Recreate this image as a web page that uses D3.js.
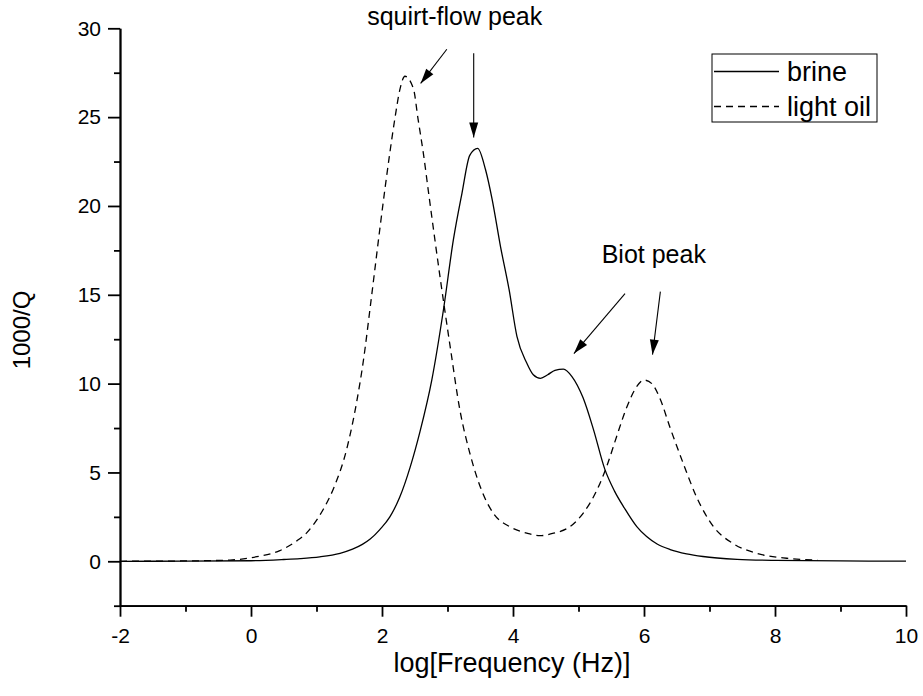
<!DOCTYPE html>
<html>
<head>
<meta charset="utf-8">
<script src="https://cdn.jsdelivr.net/npm/d3@7"></script>
<style>
  body { margin: 0; background: #fff; }
  svg { display: block; font-family: "Liberation Sans", Arial, sans-serif; }
  .axis path, .axis line { stroke: #000; stroke-width: 1.8; }
  .axis text { font-size: 21px; fill: #000; }
</style>
</head>
<body>
<svg id="chart" width="923" height="696"></svg>
<script>
// brine curve (solid)
var brineX = [-2, -1, 0, 0.5, 0.75, 1.05, 1.36, 1.55, 1.70, 1.82, 1.97, 2.12, 2.27, 2.43, 2.58, 2.76, 2.94, 3.09, 3.22, 3.34, 3.46, 3.58, 3.68, 3.81, 3.94, 4.06, 4.21, 4.31, 4.42, 4.53, 4.64, 4.77, 4.90, 5.07, 5.23, 5.40, 5.55, 5.70, 5.89, 6.04, 6.20, 6.40, 6.65, 6.90, 7.42, 8.0, 9.0, 10.0];
var brineY = [0, 0.005, 0.03, 0.1, 0.15, 0.25, 0.45, 0.68, 0.95, 1.25, 1.8, 2.5, 3.6, 5.3, 7.3, 10.2, 14.2, 18.1, 20.7, 22.85, 23.24, 22.05, 20.4, 17.7, 15.3, 12.66, 11.16, 10.5, 10.3, 10.5, 10.75, 10.82, 10.4, 9.2, 7.4, 5.2, 3.95, 3.0, 1.95, 1.39, 0.97, 0.66, 0.42, 0.27, 0.11, 0.05, 0.02, 0.01];

// light oil curve (dashed)
var oilX = [-2, -1, -0.32, 0.09, 0.44, 0.70, 0.85, 0.95, 1.10, 1.26, 1.46, 1.61, 1.72, 1.82, 1.89, 1.97, 2.05, 2.12, 2.20, 2.27, 2.35, 2.48, 2.55, 2.63, 2.72, 2.89, 3.04, 3.19, 3.34, 3.52, 3.70, 3.95, 4.21, 4.41, 4.62, 4.87, 5.07, 5.28, 5.43, 5.58, 5.74, 5.89, 6.00, 6.12, 6.24, 6.40, 6.60, 6.80, 7.06, 7.36, 7.72, 8.18, 8.65];
var oilY = [0, 0.02, 0.07, 0.26, 0.6, 1.15, 1.6, 2.05, 2.9, 4.1, 6.3, 8.9, 11.4, 14.3, 16.4, 18.8, 21.1, 23.0, 25.0, 26.5, 27.3, 26.6, 24.9, 23.0, 20.5, 15.9, 12.1, 8.5, 6.1, 4.0, 2.7, 1.95, 1.58, 1.44, 1.58, 1.95, 2.7, 4.0, 5.33, 7.0, 8.7, 9.84, 10.2, 10.0, 9.2, 7.5, 5.5, 3.64, 1.95, 1.0, 0.45, 0.17, 0.07];

var xMajor = [-2, 0, 2, 4, 6, 8, 10];
var xMinor = [-1, 1, 3, 5, 7, 9];
var yMajor = [0, 5, 10, 15, 20, 25, 30];
var yMinor = [-2.5, 2.5, 7.5, 12.5, 17.5, 22.5, 27.5];

var series = [
  {name: "brine", xs: brineX, ys: brineY, dash: null},
  {name: "light oil", xs: oilX, ys: oilY, dash: "7,5"}
];

var svg = d3.select("#chart");

var x = d3.scaleLinear().domain([-2, 10]).range([120, 906]);
var y = d3.scaleLinear().domain([-2.5, 30]).range([605.7, 28.3]);

var plain = function(d) { return String(d); };   // hyphen, not unicode minus

// axes
svg.append("g").attr("class", "axis")
  .attr("transform", "translate(0," + y(-2.5) + ")")
  .call(d3.axisBottom(x).tickValues(xMinor).tickSize(6).tickSizeOuter(0).tickFormat(""));
svg.append("g").attr("class", "axis")
  .attr("transform", "translate(0," + y(-2.5) + ")")
  .call(d3.axisBottom(x).tickValues(xMajor).tickSize(11).tickSizeOuter(0).tickPadding(11).tickFormat(plain))
  .selectAll("text").attr("dy", "0.71em");

svg.append("g").attr("class", "axis")
  .attr("transform", "translate(" + x(-2) + ",0)")
  .call(d3.axisLeft(y).tickValues(yMinor).tickSize(6).tickSizeOuter(0).tickFormat(""));
svg.append("g").attr("class", "axis")
  .attr("transform", "translate(" + x(-2) + ",0)")
  .call(d3.axisLeft(y).tickValues(yMajor).tickSize(12).tickSizeOuter(0).tickPadding(7).tickFormat(plain));

// axis titles
svg.append("text")
  .attr("x", 512).attr("y", 672)
  .attr("text-anchor", "middle")
  .style("font-size", "27px")
  .text("log[Frequency (Hz)]");

svg.append("text")
  .attr("transform", "translate(30,330) rotate(-90)")
  .attr("text-anchor", "middle")
  .style("font-size", "24px")
  .text("1000/Q");

// curves
var line = d3.line()
  .x(function(d) { return x(d[0]); })
  .y(function(d) { return y(d[1]); })
  .curve(d3.curveMonotoneX);

series.forEach(function(s) {
  var pts = s.xs.map(function(v, i) { return [v, s.ys[i]]; });
  svg.append("path")
    .datum(pts)
    .attr("d", line)
    .attr("fill", "none")
    .attr("stroke", "#000")
    .attr("stroke-width", 1.3)
    .attr("stroke-dasharray", s.dash);
});

// arrow head
svg.append("defs").append("marker")
  .attr("id", "head")
  .attr("markerUnits", "userSpaceOnUse")
  .attr("viewBox", "-16 -6 17 12")
  .attr("refX", 0).attr("refY", 0)
  .attr("markerWidth", 17).attr("markerHeight", 12)
  .attr("orient", "auto")
  .append("path")
  .attr("d", "M0,0 L-15,-4.5 L-15,4.5 Z")
  .attr("fill", "#000");

// annotations
var arrows = [
  [2.99, 28.82, 2.59, 26.9],
  [3.40, 28.6, 3.40, 23.86],
  [5.71, 15.07, 4.93, 11.69],
  [6.25, 15.18, 6.13, 11.63]
];
arrows.forEach(function(a) {
  svg.append("line")
    .attr("x1", x(a[0])).attr("y1", y(a[1]))
    .attr("x2", x(a[2])).attr("y2", y(a[3]))
    .attr("stroke", "#000").attr("stroke-width", 1.1)
    .attr("marker-end", "url(#head)");
});

svg.append("text")
  .attr("x", x(3.11)).attr("y", y(30.17))
  .attr("text-anchor", "middle")
  .style("font-size", "25px")
  .text("squirt-flow peak");

svg.append("text")
  .attr("x", x(6.15)).attr("y", y(16.8))
  .attr("text-anchor", "middle")
  .style("font-size", "25px")
  .text("Biot peak");

// legend
var legend = svg.append("g");
legend.append("rect")
  .attr("x", 712).attr("y", 54)
  .attr("width", 165).attr("height", 68)
  .attr("fill", "none").attr("stroke", "#000").attr("stroke-width", 1);

series.forEach(function(s, i) {
  var ly = 71.5 + i * 35;
  legend.append("line")
    .attr("x1", 714).attr("x2", 779)
    .attr("y1", ly).attr("y2", ly)
    .attr("stroke", "#000").attr("stroke-width", 1.3)
    .attr("stroke-dasharray", s.dash);
  legend.append("text")
    .attr("x", 787).attr("y", ly + 9)
    .style("font-size", "27px")
    .text(s.name);
});
</script>
</body>
</html>
